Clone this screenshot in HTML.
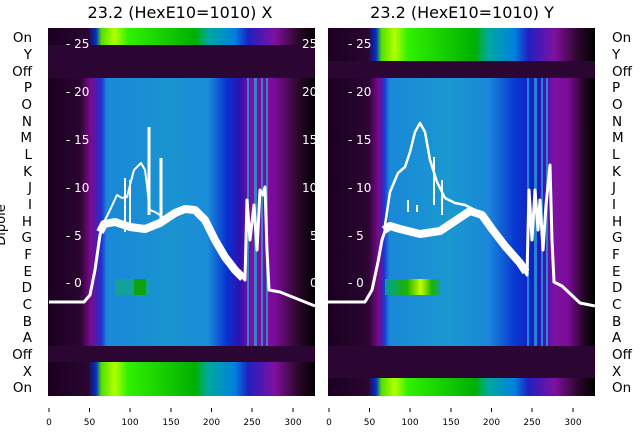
<!DOCTYPE html>
<html><head><style>body{margin:0;background:#fff}svg{display:block;font-family:"DejaVu Sans","Liberation Sans",sans-serif}</style></head><body>
<svg width="640" height="440" viewBox="0 0 640 440">
<defs>
<linearGradient id="mid" x1="0" x2="1">
<stop offset="0" stop-color="#1a0020"/><stop offset="0.12" stop-color="#2a0530"/><stop offset="0.16" stop-color="#7a0a90"/><stop offset="0.2" stop-color="#2030d0"/><stop offset="0.22" stop-color="#1a88d8"/><stop offset="0.45" stop-color="#1a94d0"/><stop offset="0.6" stop-color="#1a8cd8"/><stop offset="0.67" stop-color="#0830d0"/><stop offset="0.72" stop-color="#3010b0"/><stop offset="0.76" stop-color="#8010a0"/><stop offset="0.85" stop-color="#7a0a98"/><stop offset="0.93" stop-color="#300830"/><stop offset="1" stop-color="#000"/>
</linearGradient>
<linearGradient id="midR" x1="0" x2="1">
<stop offset="0" stop-color="#1a0020"/><stop offset="0.15" stop-color="#2a0530"/><stop offset="0.19" stop-color="#7a0a90"/><stop offset="0.21" stop-color="#2030d0"/><stop offset="0.23" stop-color="#1a88d8"/><stop offset="0.45" stop-color="#1a98d0"/><stop offset="0.6" stop-color="#1a88d8"/><stop offset="0.7" stop-color="#0838d0"/><stop offset="0.78" stop-color="#1818c0"/><stop offset="0.85" stop-color="#8010a0"/><stop offset="0.9" stop-color="#7a0a98"/><stop offset="0.96" stop-color="#200620"/><stop offset="1" stop-color="#000"/>
</linearGradient>
<linearGradient id="grn" x1="0" x2="1">
<stop offset="0" stop-color="#1a0020"/><stop offset="0.15" stop-color="#2a0530"/><stop offset="0.18" stop-color="#0030d0"/><stop offset="0.2" stop-color="#50e000"/><stop offset="0.25" stop-color="#b0ff00"/><stop offset="0.3" stop-color="#30f000"/><stop offset="0.55" stop-color="#00b000"/><stop offset="0.6" stop-color="#00a8a0"/><stop offset="0.7" stop-color="#0080e0"/><stop offset="0.75" stop-color="#2020c0"/><stop offset="0.85" stop-color="#8010a0"/><stop offset="0.93" stop-color="#300830"/><stop offset="1" stop-color="#000"/>
</linearGradient>
<linearGradient id="dg" x1="0" x2="1">
<stop offset="0" stop-color="#00a0a0"/><stop offset="0.4" stop-color="#20b000"/><stop offset="0.65" stop-color="#c0ff00"/><stop offset="0.85" stop-color="#20b000"/><stop offset="1" stop-color="#10a880"/>
</linearGradient>
</defs>
<text x="180" y="18" font-size="16" text-anchor="middle">23.2 (HexE10=1010) X</text>
<text x="462" y="18" font-size="16" text-anchor="middle">23.2 (HexE10=1010) Y</text>
<g>
<rect x="48" y="28" width="267" height="368" fill="#2a0530"/>
<rect x="48" y="28" width="267" height="17" fill="url(#grn)"/>
<rect x="48" y="78" width="267" height="268" fill="url(#mid)"/>
<rect x="48" y="362" width="267" height="34" fill="url(#grn)"/>
<rect x="48" y="45" width="267" height="33" fill="#2c0632"/>
<rect x="48" y="346" width="267" height="16" fill="#2c0632"/>
<g fill="#20a0d8" opacity="0.8"><rect x="247" y="78" width="2" height="268"/><rect x="254" y="78" width="3" height="268"/><rect x="261" y="78" width="2" height="268"/><rect x="266" y="78" width="2" height="268"/></g>
<rect x="115" y="279" width="35" height="16" fill="#10a888" opacity="0.8"/>
<rect x="134" y="279" width="12" height="16" fill="#10a010"/>
</g>
<g>
<rect x="328" y="28" width="267" height="368" fill="#2a0530"/>
<rect x="328" y="28" width="267" height="33" fill="url(#grn)"/>
<rect x="328" y="78" width="267" height="268" fill="url(#midR)"/>
<rect x="328" y="378" width="267" height="18" fill="url(#grn)"/>
<rect x="328" y="61" width="267" height="17" fill="#2c0632"/>
<rect x="328" y="346" width="267" height="32" fill="#2c0632"/>
<g fill="#20a0d8" opacity="0.8"><rect x="527" y="78" width="2" height="268"/><rect x="534" y="78" width="3" height="268"/><rect x="541" y="78" width="2" height="268"/><rect x="546" y="78" width="2" height="268"/></g>
<rect x="385" y="279" width="55" height="16" fill="url(#dg)"/>
</g>
<g fill="#fff" font-size="12">
<text x="66" y="48">- 25</text><text x="66" y="96">- 20</text><text x="66" y="144">- 15</text><text x="66" y="192">- 10</text><text x="66" y="240">- 5</text><text x="66" y="287">- 0</text>
<text x="302" y="48">25</text><text x="302" y="96">20</text><text x="302" y="144">15</text><text x="302" y="192">10</text><text x="310" y="240">5</text><text x="310" y="287">0</text>
<text x="348" y="48">- 25</text><text x="348" y="96">- 20</text><text x="348" y="144">- 15</text><text x="348" y="192">- 10</text><text x="348" y="240">- 5</text><text x="348" y="287">- 0</text>
</g>
<g fill="none" stroke="#fff" stroke-linejoin="round">
<polyline stroke-width="3" points="49,302 84,302 90,295 95,270 100,235 104,222 115,220 130,225 145,228 160,222 175,212 185,207 195,208 205,218 215,238 225,255 235,268 245,280 247,200 250,240 254,205 257,250 260,190 263,195 265,187 267,250 269,290 280,292 300,300 315,306"/>
<polyline stroke-width="8" points="100,232 104,224 115,222 130,227 145,229 160,223 175,213 185,209 195,210 205,220 215,240 225,257 235,270 243,278"/>
<polyline stroke-width="2" points="104,222 110,210 117,195 122,198 127,197 130,185 134,170 141,163 145,170 147,185 149,205 150,210 155,212 160,215"/>
<line x1="149" y1="215" x2="149" y2="127" stroke-width="3"/>
<line x1="161" y1="222" x2="161" y2="158" stroke-width="3"/>
<line x1="125" y1="178" x2="125" y2="232" stroke-width="2"/>
<line x1="130" y1="180" x2="130" y2="230" stroke-width="2"/>
</g>
<g fill="none" stroke="#fff" stroke-linejoin="round">
<polyline stroke-width="3" points="328,302 365,302 372,290 378,262 382,240 387,225 400,228 420,233 440,230 455,220 470,210 482,214 492,228 505,245 520,262 527,275 529,190 532,240 535,190 538,230 540,200 543,250 546,205 550,165 552,240 554,282 562,286 580,303 595,306"/>
<polyline stroke-width="8" points="384,230 390,226 400,229 420,234 440,231 455,221 470,211 482,215 492,229 505,246 520,263 526,272"/>
<polyline stroke-width="2.5" points="385,225 390,192 398,173 405,167 410,152 415,132 420,123 425,132 430,160 437,182 445,198 455,203 465,205 475,210"/>
<line x1="434" y1="205" x2="434" y2="157" stroke-width="2"/>
<line x1="442" y1="215" x2="442" y2="180" stroke-width="2"/>
<line x1="408" y1="212" x2="408" y2="200" stroke-width="2"/>
<line x1="417" y1="212" x2="417" y2="205" stroke-width="2"/>
</g>
<g font-size="13.5" text-anchor="end" fill="#000">
<text x="32" y="42">On</text><text x="32" y="59">Y</text><text x="32" y="76">Off</text><text x="32" y="92">P</text><text x="32" y="109">O</text><text x="32" y="126">N</text><text x="32" y="142">M</text><text x="32" y="159">L</text><text x="32" y="176">K</text><text x="32" y="192">J</text><text x="32" y="209">I</text><text x="32" y="226">H</text><text x="32" y="242">G</text><text x="32" y="259">F</text><text x="32" y="276">E</text><text x="32" y="292">D</text><text x="32" y="309">C</text><text x="32" y="326">B</text><text x="32" y="342">A</text><text x="32" y="359">Off</text><text x="32" y="376">X</text><text x="32" y="392">On</text>
</g>
<g font-size="13.5" fill="#000">
<text x="612" y="42">On</text><text x="612" y="59">Y</text><text x="612" y="76">Off</text><text x="612" y="92">P</text><text x="612" y="109">O</text><text x="612" y="126">N</text><text x="612" y="142">M</text><text x="612" y="159">L</text><text x="612" y="176">K</text><text x="612" y="192">J</text><text x="612" y="209">I</text><text x="612" y="226">H</text><text x="612" y="242">G</text><text x="612" y="259">F</text><text x="612" y="276">E</text><text x="612" y="292">D</text><text x="612" y="309">C</text><text x="612" y="326">B</text><text x="612" y="342">A</text><text x="612" y="359">Off</text><text x="612" y="376">X</text><text x="612" y="392">On</text>
</g>
<text transform="translate(5,225) rotate(-90)" font-size="13" text-anchor="middle">Dipole</text>
<g stroke="#000" stroke-width="1">
<line x1="49" y1="408" x2="49" y2="412"/><line x1="89.5" y1="408" x2="89.5" y2="412"/><line x1="130" y1="408" x2="130" y2="412"/><line x1="171" y1="408" x2="171" y2="412"/><line x1="211.5" y1="408" x2="211.5" y2="412"/><line x1="252" y1="408" x2="252" y2="412"/><line x1="293" y1="408" x2="293" y2="412"/>
<line x1="329" y1="408" x2="329" y2="412"/><line x1="369.5" y1="408" x2="369.5" y2="412"/><line x1="410" y1="408" x2="410" y2="412"/><line x1="451" y1="408" x2="451" y2="412"/><line x1="491.5" y1="408" x2="491.5" y2="412"/><line x1="532" y1="408" x2="532" y2="412"/><line x1="573" y1="408" x2="573" y2="412"/>
</g>
<g font-size="9" text-anchor="middle" fill="#000">
<text x="49" y="425">0</text><text x="89.5" y="425">50</text><text x="130" y="425">100</text><text x="171" y="425">150</text><text x="211.5" y="425">200</text><text x="252" y="425">250</text><text x="293" y="425">300</text>
<text x="329" y="425">0</text><text x="369.5" y="425">50</text><text x="410" y="425">100</text><text x="451" y="425">150</text><text x="491.5" y="425">200</text><text x="532" y="425">250</text><text x="573" y="425">300</text>
</g>
</svg>
</body></html>
